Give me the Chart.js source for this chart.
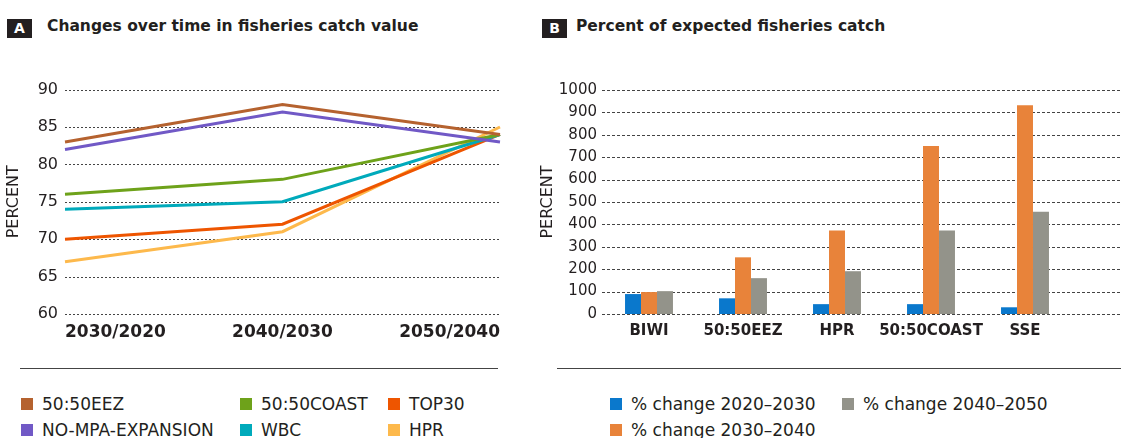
<!DOCTYPE html>
<html>
<head>
<meta charset="utf-8">
<script src="https://cdn.jsdelivr.net/npm/chart.js@4"></script>
<style>
  html, body { margin: 0; padding: 0; background: #fff; }
  body { width: 1121px; height: 438px; position: relative; overflow: hidden; font-family: "DejaVu Sans", sans-serif; color: #231f20; }
  .tag { position: absolute; top: 19px; width: 25px; height: 19px; background: #231f20; color: #fff; font: bold 14px "DejaVu Sans"; text-align: center; line-height: 19px; }
  .title { position: absolute; top: 17px; font: bold 15.5px "DejaVu Sans", sans-serif; color: #231f20; }
  .rule { position: absolute; top: 368px; height: 0; border-top: 1.5px solid #444; }
  .legend { position: absolute; top: 391px; display: grid; grid-auto-flow: column; grid-template-rows: 26px 26px; font-size: 17px; }
  .legend div { display: flex; align-items: center; white-space: nowrap; }
  .legend span.box { width: 12px; height: 12px; margin-right: 9px; flex: none; }
  canvas { position: absolute; }
</style>
</head>
<body>
<div class="tag" style="left:7px">A</div>
<div class="title" style="left:47px">Changes over time in fisheries catch value</div>
<div class="tag" style="left:542px">B</div>
<div class="title" style="left:576px">Percent of expected fisheries catch</div>

<div id="wrapA" style="position:absolute;left:0;top:73px;width:520px;height:272px"><canvas id="chartA"></canvas></div>
<div id="wrapB" style="position:absolute;left:540px;top:76px;width:581px;height:269px"><canvas id="chartB"></canvas></div>

<div class="rule" style="left:20px;width:478px"></div>
<div class="rule" style="left:557px;width:564px"></div>

<div class="legend" id="legendA" style="left:21px;grid-template-columns:219px 148px auto"></div>
<div class="legend" id="legendB" style="left:610px;grid-template-columns:232px auto"></div>

<script>
// panel A: catch value over time
let periods = ["2030/2020", "2040/2030", "2050/2040"]
let eez5050 = [83, 88, 84]
let noMpa = [82, 87, 83]
let coast5050 = [76, 78, 84]
let wbc = [74, 75, 84]
let top30 = [70, 72, 84]
let hprLine = [67, 71, 85]
let ticksA = [60, 65, 70, 75, 80, 85, 90]

// panel B: percent of expected catch
let scenarios = ["BIWI", "50:50EEZ", "HPR", "50:50COAST", "SSE"]
let change2020_2030 = [89, 70, 44, 44, 30]
let change2030_2040 = [98, 253, 373, 750, 932]
let change2040_2050 = [102, 160, 191, 373, 457]
let ticksB = [0, 100, 200, 300, 400, 500, 600, 700, 800, 900, 1000]

let ink = '#231f20'

let seriesA = [
	{label: '50:50EEZ', data: eez5050, color: '#b5622f'},
	{label: 'NO-MPA-EXPANSION', data: noMpa, color: '#7159c6'},
	{label: '50:50COAST', data: coast5050, color: '#6ea21a'},
	{label: 'WBC', data: wbc, color: '#00aabb'},
	{label: 'TOP30', data: top30, color: '#ee5500'},
	{label: 'HPR', data: hprLine, color: '#fdb94c'}
]

let seriesB = [
	{label: '% change 2020–2030', data: change2020_2030, color: '#0a78cc'},
	{label: '% change 2030–2040', data: change2030_2040, color: '#e8833a'},
	{label: '% change 2040–2050', data: change2040_2050, color: '#93938a'}
]

// dotted grid that runs past the chart area to the canvas edge
let wideGrid = {
	id: 'wideGrid',
	beforeDatasetsDraw(chart, args, opts) {
		let c = chart.ctx
		let y = chart.scales.y
		c.save()
		c.strokeStyle = opts.color
		c.lineWidth = 1
		c.setLineDash(opts.dash)
		y.ticks.forEach(function(t) {
			let py = Math.round(y.getPixelForValue(t.value)) + 0.5
			c.beginPath()
			c.moveTo(chart.chartArea.left, py)
			c.lineTo(opts.toEdge ? chart.width : chart.chartArea.right, py)
			c.stroke()
		})
		c.restore()
	}
}

function makeLegend(el, list) {
	list.forEach(function(s) {
		let item = document.createElement('div')
		let box = document.createElement('span')
		box.className = 'box'
		box.style.background = s.color
		item.appendChild(box)
		item.appendChild(document.createTextNode(s.label))
		el.appendChild(item)
	})
}
makeLegend(document.getElementById('legendA'), seriesA)
makeLegend(document.getElementById('legendB'), seriesB)

Chart.defaults.font.family = '"DejaVu Sans", sans-serif'
Chart.defaults.color = ink

let chartA = new Chart(document.getElementById('chartA'), {
	type: 'line',
	data: {
		labels: periods,
		datasets: seriesA.map(function(s) {
			return {label: s.label, data: s.data, borderColor: s.color, backgroundColor: s.color,
				borderWidth: 3, pointRadius: 0, tension: 0}
		})
	},
	plugins: [wideGrid],
	options: {
		responsive: true,
		maintainAspectRatio: false,
		animation: false,
		layout: {padding: {top: 5, right: 20, left: 0, bottom: 0}},
		plugins: {
			legend: {display: false},
			tooltip: {enabled: false},
			wideGrid: {color: '#444', dash: [2, 2], toEdge: false}
		},
		scales: {
			x: {
				offset: false,
				grid: {display: false, drawTicks: false},
				border: {display: false},
				ticks: {align: 'inner', padding: 8, maxRotation: 0, autoSkip: false, color: ink, font: {size: 17, weight: 'bold'}},
				afterFit: function(s) { s.height = 31 }
			},
			y: {
				min: 60,
				max: 90,
				afterBuildTicks: function(s) { s.ticks = ticksA.map(v => ({value: v})) },
				grid: {display: false, drawTicks: false},
				border: {display: false},
				ticks: {padding: 7, color: ink, font: {size: 16}, callback: v => String(v)},
				title: {display: true, text: 'PERCENT', color: ink, font: {size: 16, lineHeight: 1}, padding: {top: 6, bottom: 0}},
				afterFit: function(s) { s.width = 65 }
			}
		}
	}
})

let chartB = new Chart(document.getElementById('chartB'), {
	type: 'bar',
	data: {
		labels: scenarios,
		datasets: seriesB.map(function(s) {
			return {label: s.label, data: s.data, backgroundColor: s.color, borderWidth: 0,
				categoryPercentage: 0.51, barPercentage: 1}
		})
	},
	plugins: [wideGrid],
	options: {
		responsive: true,
		maintainAspectRatio: false,
		animation: false,
		layout: {padding: {top: 8, right: 49, left: 0, bottom: 0}},
		plugins: {
			legend: {display: false},
			tooltip: {enabled: false},
			wideGrid: {color: '#444', dash: [3, 2], toEdge: true}
		},
		scales: {
			x: {
				grid: {display: false, drawTicks: false},
				border: {display: false},
				ticks: {padding: 8, maxRotation: 0, autoSkip: false, color: ink, font: {size: 15, weight: 'bold'}},
				afterFit: function(s) { s.height = 31 }
			},
			y: {
				min: 0,
				max: 1000,
				afterBuildTicks: function(s) { s.ticks = ticksB.map(v => ({value: v})) },
				grid: {display: false, drawTicks: false},
				border: {display: false},
				ticks: {padding: 5, color: ink, font: {size: 15}, callback: v => String(v)},
				title: {display: true, text: 'PERCENT', color: ink, font: {size: 16, lineHeight: 1}, padding: {top: 0, bottom: 0}},
				afterFit: function(s) { s.width = 62 }
			}
		}
	}
})
</script>
</body>
</html>
